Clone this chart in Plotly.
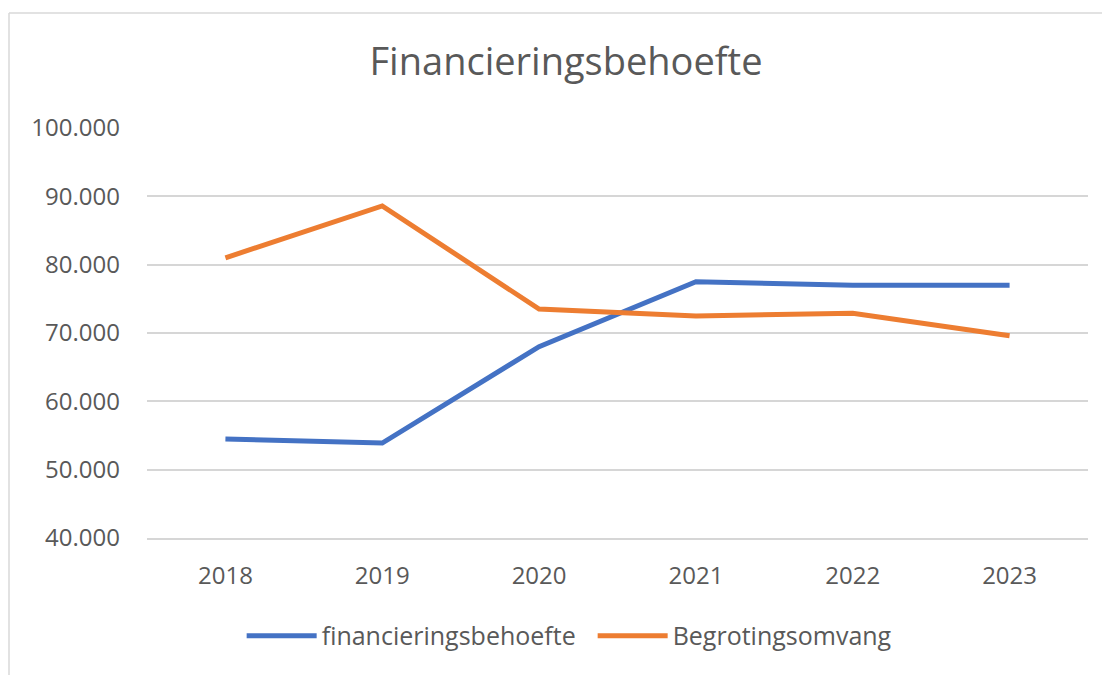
import plotly.graph_objects as go

years = ["2018", "2019", "2020", "2021", "2022", "2023"]
financieringsbehoefte = [54500, 53900, 68000, 77500, 77000, 77000]
begrotingsomvang = [81000, 88600, 73500, 72500, 72900, 69600]
y_ticks = [40000, 50000, 60000, 70000, 80000, 90000, 100000]

FONT = "Open Sans"
TXT = "#595959"
GRID = "#D6D6D6"

fig = go.Figure()
fig.add_trace(go.Scatter(x=years, y=financieringsbehoefte, mode="lines",
                         name="financieringsbehoefte",
                         line=dict(color="#4472C4", width=5)))
fig.add_trace(go.Scatter(x=years, y=begrotingsomvang, mode="lines",
                         name="Begrotingsomvang",
                         line=dict(color="#ED7D31", width=5)))

W, H = 1102, 667
fig.update_layout(
    width=W, height=H,
    margin=dict(l=139, r=22, t=120, b=137),
    paper_bgcolor="white", plot_bgcolor="white",
    separators=",.",
    font=dict(family=FONT, size=24, color=TXT),
    title=dict(text="Financieringsbehoefte", x=558 / W, xanchor="center",
               y=1 - 54 / H, yanchor="middle",
               font=dict(family=FONT, size=38, color=TXT)),
    showlegend=True,
    legend=dict(orientation="h", x=0.4736, xanchor="center",
                y=-0.239, yanchor="middle",
                font=dict(family=FONT, size=25, color=TXT),
                itemwidth=70, entrywidth=266, bgcolor="rgba(0,0,0,0)"),
    xaxis=dict(type="category", range=[-0.5, 5.5], showgrid=False,
               showline=True, linecolor=GRID, linewidth=1.5,
               zeroline=False, ticks="",
               ticklabelstandoff=15,
               tickfont=dict(family=FONT, size=24, color=TXT)),
    yaxis=dict(range=[40000, 100000], tickvals=y_ticks, tickformat=",.0f",
               showgrid=True, gridcolor=GRID, gridwidth=1.5,
               showline=False, zeroline=False, ticks="",
               ticklabelstandoff=26,
               tickfont=dict(family=FONT, size=24, color=TXT)),
    shapes=[
        dict(type="line", xref="paper", yref="paper",
             x0=(1 - 139) / 941, x1=1.05, y0=1 + (120 - 5) / 410, y1=1 + (120 - 5) / 410,
             line=dict(color="#D9D9D9", width=1.5)),
        dict(type="line", xref="paper", yref="paper",
             x0=(1 - 139) / 941, x1=(1 - 139) / 941, y0=1 + (120 - 5) / 410, y1=-0.5,
             line=dict(color="#D9D9D9", width=1.5)),
    ],
)

fig.write_html("out.html")
